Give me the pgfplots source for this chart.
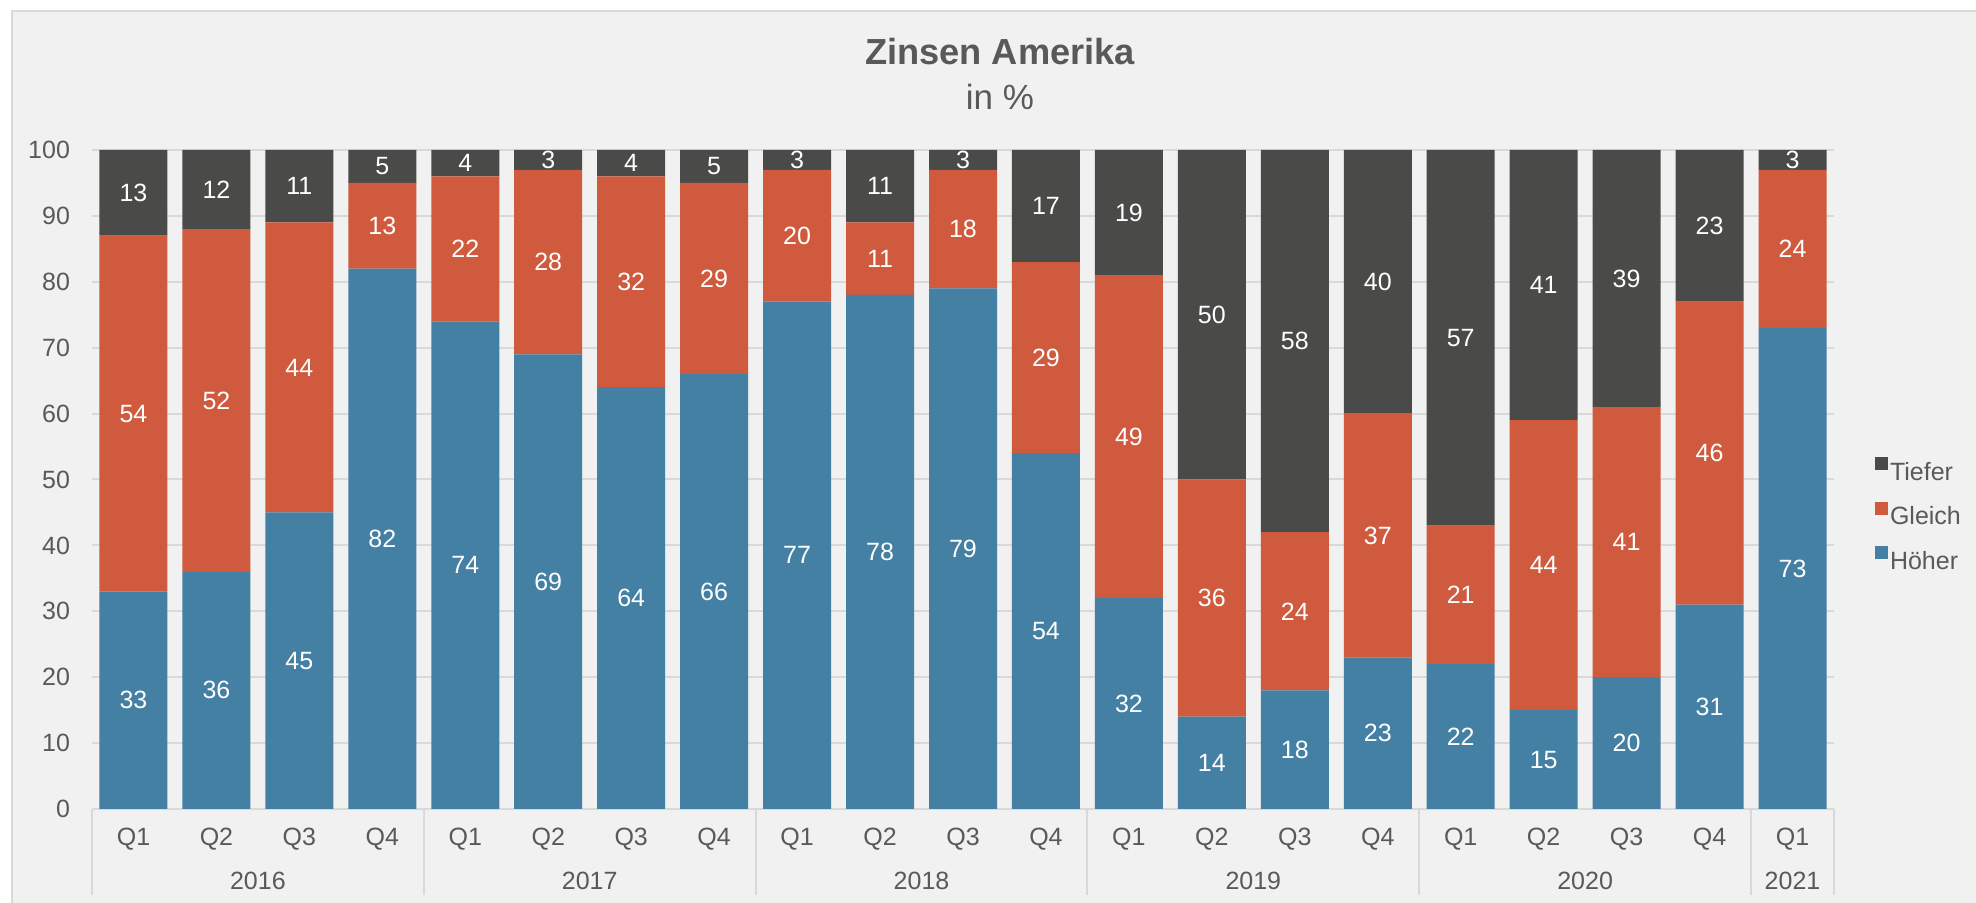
\documentclass[border=0pt]{standalone}
\usepackage{pgfplots}
\usepackage{pgfplotstable}
\pgfplotsset{compat=1.18}
\usepackage{fontspec}
\setmainfont{Liberation Sans}
\definecolor{cTief}{HTML}{4A4A48}
\definecolor{cGleich}{HTML}{D05A3E}
\definecolor{cHoch}{HTML}{4480A3}
\definecolor{cText}{HTML}{595959}
\definecolor{cGrid}{HTML}{D9D9D9}
\definecolor{cBg}{HTML}{F1F1F1}

\pgfplotstableread{
x hoeher gleich tiefer
0 33 54 13
1 36 52 12
2 45 44 11
3 82 13 5
4 74 22 4
5 69 28 3
6 64 32 4
7 66 29 5
8 77 20 3
9 78 11 11
10 79 18 3
11 54 29 17
12 32 49 19
13 14 36 50
14 18 24 58
15 23 37 40
16 22 21 57
17 15 44 41
18 20 41 39
19 31 46 23
20 73 24 3
}\datatable

\begin{document}
\begin{tikzpicture}
\fill[white] (-36.8pt,-37.6pt) rectangle (753.6pt,323.6pt);
\filldraw[fill=cBg, draw=cGrid, line width=0.8pt] (-32pt,319.2pt) rectangle (780pt,-60pt);
\begin{axis}[
  scale only axis, width=696.8pt, height=263.6pt,
  ybar stacked, bar width=27.2pt,
  xmin=-0.5, xmax=20.5, ymin=0, ymax=100,
  enlargelimits=false,
  clip=false,
  axis x line*=bottom, axis y line*=left,
  y axis line style={draw=none},
  x axis line style={draw=cGrid, line width=0.8pt},
  major tick length=0pt,
  ytick={0,10,...,100},
  xtick={0,...,20},
  xticklabels={Q1,Q2,Q3,Q4,Q1,Q2,Q3,Q4,Q1,Q2,Q3,Q4,Q1,Q2,Q3,Q4,Q1,Q2,Q3,Q4,Q1},
  ymajorgrids,
  grid style={draw=cGrid, line width=0.8pt},
  /pgf/number format/assume math mode=true,
  tick label style={font=\fontsize{10}{12}\selectfont, text=cText},
  yticklabel style={xshift=-5.3pt},
  xticklabel style={yshift=-4pt},
  point meta=explicit,
  nodes near coords,
  nodes near coords align=center,
  every node near coord/.append style={text=white, font=\fontsize{10}{12}\selectfont},
  legend style={at={(1,0.446)}, anchor=west, xshift=16pt, draw=none, fill=none,
    font=\fontsize{10}{12}\selectfont, text=cText, inner sep=0pt, row sep=7.2pt,
    nodes={inner sep=1pt, text height=7.5pt, text depth=0.5pt}},
  legend cell align=left,
  reverse legend,
  legend image code/.code={\fill[#1] (0pt,0.4pt) rectangle (5.2pt,5.6pt);},
]
\addplot[fill=cHoch, draw=none] table[x=x, y=hoeher, meta=hoeher] \datatable;
\addplot[fill=cGleich, draw=none] table[x=x, y=gleich, meta=gleich] \datatable;
\addplot[fill=cTief, draw=none] table[x=x, y=tiefer, meta=tiefer] \datatable;
\legend{Höher, Gleich, Tiefer}

\pgfplotsinvokeforeach{-0.5,3.5,7.5,11.5,15.5,19.5,20.5}{
  \draw[cGrid, line width=0.8pt] (axis cs:#1,0) -- ++(0pt,-34.4pt);
}
\node[text=cText, font=\fontsize{10}{12}\selectfont] at (axis cs:1.5,0) [yshift=-28.8pt] {2016};
\node[text=cText, font=\fontsize{10}{12}\selectfont] at (axis cs:5.5,0) [yshift=-28.8pt] {2017};
\node[text=cText, font=\fontsize{10}{12}\selectfont] at (axis cs:9.5,0) [yshift=-28.8pt] {2018};
\node[text=cText, font=\fontsize{10}{12}\selectfont] at (axis cs:13.5,0) [yshift=-28.8pt] {2019};
\node[text=cText, font=\fontsize{10}{12}\selectfont] at (axis cs:17.5,0) [yshift=-28.8pt] {2020};
\node[text=cText, font=\fontsize{10}{12}\selectfont] at (axis cs:20,0) [yshift=-28.8pt] {2021};
\end{axis}
\node[text=cText, font=\bfseries\fontsize{14.5}{17}\selectfont] at (363.2pt,302.8pt) {Zinsen Amerika};
\node[text=cText, font=\fontsize{14}{16}\selectfont] at (363.2pt,284.8pt) {in \%};
\pgfresetboundingbox
\path[use as bounding box] (-36.8pt,-37.6pt) rectangle (753.6pt,323.6pt);
\end{tikzpicture}
\end{document}
